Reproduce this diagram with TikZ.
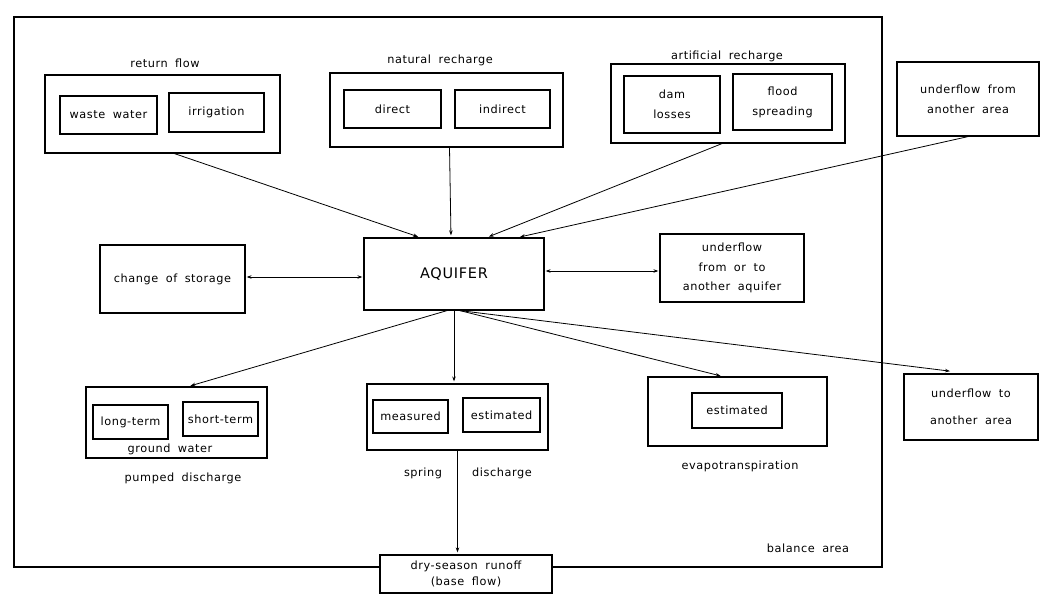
\documentclass[tikz,border=0pt]{standalone}
\usepackage{fontspec}
\setmainfont{DejaVu Sans}[LetterSpace=5, WordSpace=1.8]
\usetikzlibrary{arrows.meta,calc}
\begin{document}
\begin{tikzpicture}[x=1pt,y=-1pt,
  font=\fontsize{11.3}{20}\selectfont,
  box/.style={draw, line width=1.2pt, rectangle, inner sep=0pt, align=center, fill=white},
  lab/.style={inner sep=0pt, align=center},
  tip/.tip={Stealth[length=5pt,width=3.5pt]},
  flow/.style={line width=0.8pt, -tip, shorten >=2pt},
  dflow/.style={line width=0.8pt, tip-tip, shorten >=1pt, shorten <=1pt},
  sz/.style n args={2}{minimum width=#1pt, minimum height=#2pt}
]
\useasboundingbox (0,0) rectangle (1040,596);
\fill[white] (0,0) rectangle (1040,596);

% balance area
\draw[line width=1.8pt] (14,17) rectangle (882,567);
\node[lab] (bal) at (808,548) {balance area};

% return flow
\node[box, sz={235}{78}] (rf) at (162.5,114) {};
\node[box, sz={97}{38}] (ww) at (108.5,115) {waste water};
\node[box, sz={95}{39}] (irr) at (216.5,112.5) {irrigation};
\node[lab] (rft) at (165,63) {return flow};

% natural recharge
\node[box, sz={233}{74}] (nr) at (446.5,110) {};
\node[box, sz={97}{38}] (dir) at (392.5,109) {direct};
\node[box, sz={95}{38}] (ind) at (502.5,109) {indirect};
\node[lab] (nrt) at (440,60) {natural recharge};

% artificial recharge
\node[box, sz={234}{79}] (ar) at (728,103.5) {};
\node[box, sz={96}{57}] (dam) at (672,104.5) {dam\\losses};
\node[box, sz={99}{56}] (fl) at (782.5,102) {flood\\spreading};
\node[lab] (art) at (727,56) {artificial recharge};

% underflow from another area
\node[box, sz={142}{74}] (ufa) at (968,99) {underflow from\\another area};

% aquifer
\node[box, sz={180}{72}, font=\fontsize{14.5}{16}\selectfont] (aq) at (454,274) {AQUIFER};

% change of storage
\node[box, sz={145}{68}] (cos) at (172.5,279) {change of storage};

% underflow from or to another aquifer
\node[box, sz={144}{68}, font=\fontsize{11.3}{19.5}\selectfont] (uaq) at (732,268) {underflow\\from or to\\another aquifer};

% pumped discharge
\node[box, sz={181}{71}] (pd) at (176.5,422.5) {};
\node[box, sz={75}{34}] (lt) at (130.5,422) {long-term};
\node[box, sz={75}{34}] (st) at (220.5,419) {short-term};
\node[lab] (gw) at (170,449) {ground water};
\node[lab] (pdt) at (183,478) {pumped discharge};

% spring discharge
\node[box, sz={181}{66}] (sp) at (457.5,417) {};
\node[box, sz={75}{33}] (meas) at (410.5,416.5) {measured};
\node[box, sz={77}{34}] (spest) at (501.5,415) {estimated};
\node[lab] (spt1) at (423,473) {spring};
\node[lab] (spt2) at (502,473) {discharge};

% evapotranspiration
\node[box, sz={179}{69}] (ev) at (737.5,411.5) {};
\node[box, sz={90}{35}] (evest) at (737,410.5) {estimated};
\node[lab] (evt) at (740,466) {evapotranspiration};

% underflow to another area
\node[box, sz={134}{66}, font=\fontsize{11.3}{27}\selectfont] (uta) at (971,407) {underflow to\\another area};

% dry season runoff
\node[box, sz={172}{38}, font=\fontsize{11.3}{16}\selectfont] (dry) at (466,574) {dry-season runoff\\(base flow)};

% connector helpers
\coordinate (cosr) at ($(cos.east)+(0,-2)$);
\coordinate (uaql) at ($(uaq.west)+(0,3)$);

% connectors
\draw[flow] ($(rf.south)+(12,0)$) -- ($(aq.north)+(-34,0)$);
\draw[flow] ($(nr.south)+(3,0)$) -- ($(aq.north)+(-3,0)$);
\draw[flow] ($(ar.south)+(-6,0)$) -- ($(aq.north)+(33,0)$);
\draw[flow] (ufa.south) -- ($(aq.north)+(64,0)$);
\draw[dflow] (cosr) -- (cosr -| aq.west);
\draw[dflow] (uaql) -- (uaql -| aq.east);
\draw[flow] ($(aq.south)+(-7,0)$) -- ($(pd.north)+(12,0)$);
\draw[flow] (aq.south) -- (aq.south |- sp.north);
\draw[flow] ($(aq.south)+(6,0)$) -- ($(ev.north)+(-15,0)$);
\draw[flow] ($(aq.south)+(6,0)$) -- ($(uta.north)+(-19,-2)$);
\draw[flow] (sp.south) -- (sp.south |- dry.north);
\end{tikzpicture}
\end{document}
